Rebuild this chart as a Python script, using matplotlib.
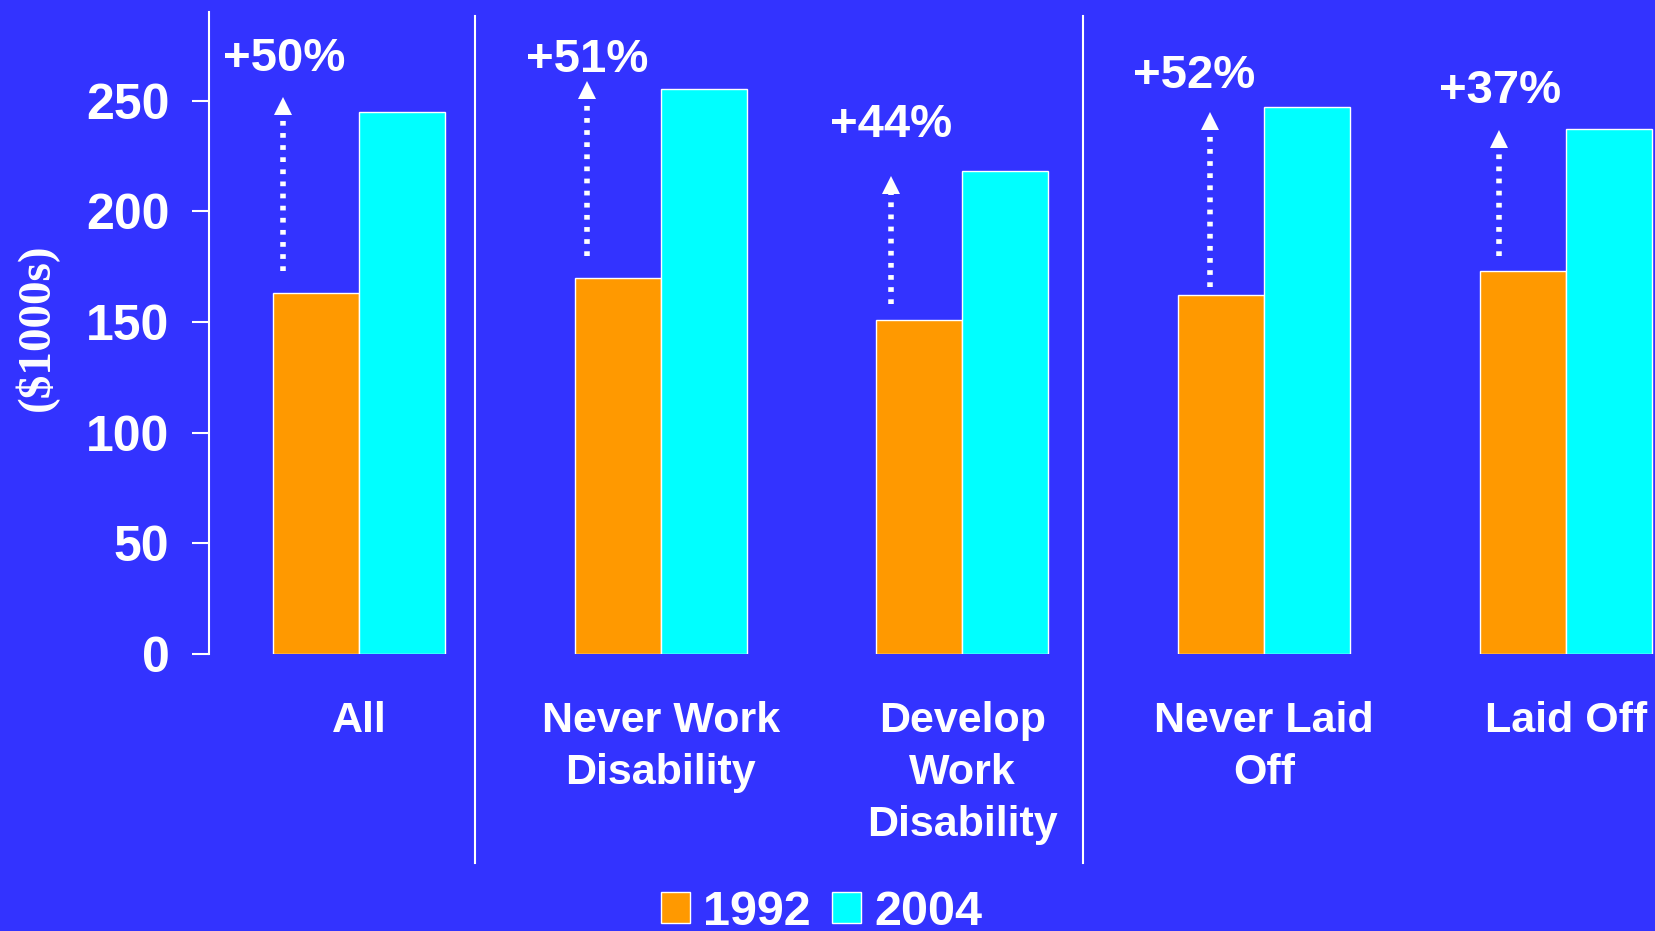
import matplotlib
matplotlib.use("Agg")
import matplotlib.pyplot as plt
import numpy as np

# data ($1000s)
groups = ["All", "Never Work\nDisability", "Develop\nWork\nDisability",
          "Never Laid\nOff", "Laid Off"]
v1992 = [163, 170, 151, 162, 173]
v2004 = [245, 255, 218, 247, 237]
pct_labels = ["+50%", "+51%", "+44%", "+52%", "+37%"]
yticks = [0, 50, 100, 150, 200, 250]

BG = "#3333FF"
ORANGE = "#FF9900"
CYAN = "#00FFFF"
BAR_W = 0.285
# hand placed annotation layout (offsets in axis units)
ARROW_DX = [-0.252, -0.245, -0.235, -0.18, -0.222]
TEXT_DX = [0.004, 0.0, 0.0, -0.051, 0.003]
ARROW_GAP = [10, 10, 7, 3.6, 7]
TIP_OFF = [6.5, 3.6, -2.3, -2.4, -0.4]
TEXT_OFF = [23.6, 13.2, 21.1, 14.1, 17.4]
SEPARATORS = [0.385, 2.4]

plt.rcParams["font.family"] = ["Liberation Sans", "DejaVu Sans"]
plt.rcParams["font.weight"] = "bold"

fig = plt.figure(figsize=(16.56, 9.31), dpi=100)
fig.patch.set_facecolor(BG)
ax = fig.add_axes([0.1262, 0.2975, 0.8738, 0.6896])
ax.set_facecolor(BG)

x = np.arange(len(groups))
ax.bar(x - BAR_W / 2, v1992, BAR_W, color=ORANGE, edgecolor="white",
       linewidth=1, label="1992")
ax.bar(x + BAR_W / 2, v2004, BAR_W, color=CYAN, edgecolor="white",
       linewidth=1, label="2004")

# dotted growth arrows and percentage labels
for i in range(len(groups)):
    ax_x = x[i] + ARROW_DX[i]
    start = v1992[i] + ARROW_GAP[i]
    tip = v2004[i] + TIP_OFF[i]
    ax.plot([ax_x, ax_x], [start, tip - 4], color="white", lw=4,
            dashes=(0.85, 1.33), dash_capstyle="butt")
    ax.plot([ax_x], [tip - 4], marker="^", markersize=13, color="white",
            markeredgewidth=0)
    ax.text(ax_x + TEXT_DX[i], v2004[i] + TEXT_OFF[i], pct_labels[i],
            ha="center", va="center", fontsize=34, fontweight="bold",
            color="white")

# separators between group blocks
for sx in SEPARATORS:
    ax.plot([sx, sx], [-94.4, 288.2], color="white", lw=1.5, clip_on=False)

ax.set_xlim(-0.497, 4.299)
ax.set_ylim(0, 290)
ax.set_yticks(yticks)
ax.set_xticks(x)
ax.set_xticklabels(groups, linespacing=1.39)

for s in ["top", "right", "bottom"]:
    ax.spines[s].set_visible(False)
ax.spines["left"].set_color("white")
ax.spines["left"].set_linewidth(1.5)

ax.tick_params(axis="y", colors="white", length=12, width=1.5, pad=16.5,
               labelsize=36)
ax.tick_params(axis="x", colors="white", length=0, pad=34, labelsize=31)

fig.text(37 / 1656, 1 - 327 / 931, "($1000s)", rotation=90, ha="center",
         va="center", fontsize=34, fontweight="bold", color="white",
         family=["Liberation Serif", "DejaVu Serif"])

fig.legend(loc="center", bbox_to_anchor=(0.496, 0.02), ncol=2,
           frameon=False, fontsize=35, labelcolor="white", handlelength=0.6,
           handleheight=0.6, handletextpad=0.26, columnspacing=0.45,
           borderpad=0)

fig.savefig("out.png", dpi=100, facecolor=BG)
